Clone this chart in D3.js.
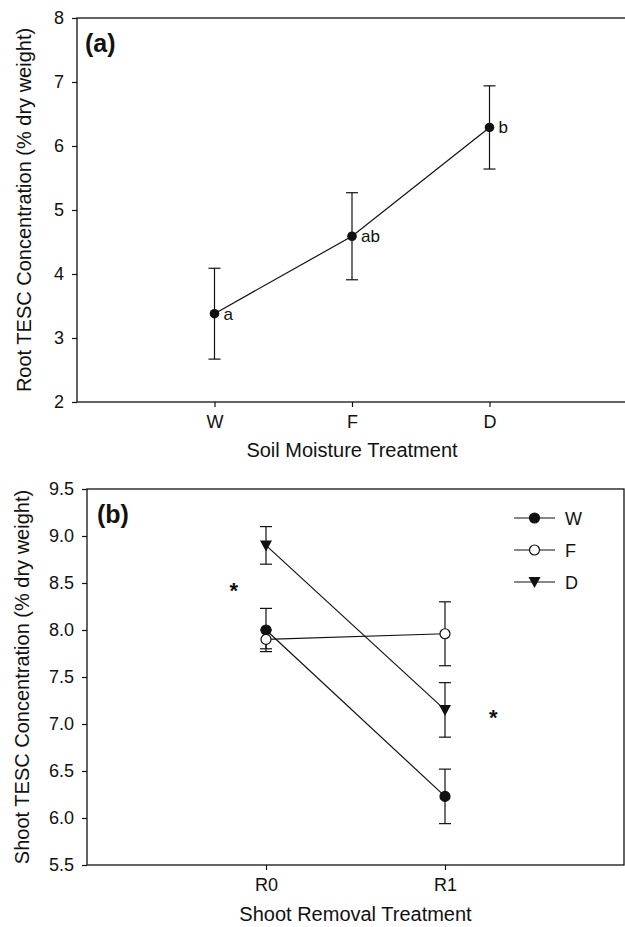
<!DOCTYPE html>
<html>
<head>
<meta charset="utf-8">
<script src="https://cdn.jsdelivr.net/npm/d3@7"></script>
<style>
  html, body { margin: 0; padding: 0; background: #fff; }
  svg text { font-family: "Liberation Sans", Arial, Helvetica, sans-serif; fill: #111; }
</style>
</head>
<body>
<svg id="chart" width="625" height="927"></svg>
<script>
// ---------- Panel (a) data ----------
const categoriesA = ["W", "F", "D"];
const meansA = [3.38, 4.59, 6.29];
const errorsA = [0.71, 0.68, 0.65];
const lettersA = ["a", "ab", "b"];
const yTicksA = [2, 3, 4, 5, 6, 7, 8];

// ---------- Panel (b) data ----------
const categoriesB = ["R0", "R1"];
const seriesNamesB = ["W", "F", "D"];
const valuesW = [8.00, 6.23];
const errorsW = [0.23, 0.29];
const valuesF = [7.90, 7.96];
const errorsF = [0.10, 0.34];
const valuesD = [8.90, 7.15];
const errorsD = [0.20, 0.29];
const yTicksB = [5.5, 6.0, 6.5, 7.0, 7.5, 8.0, 8.5, 9.0, 9.5];
// significance marks: [category position index, value]
const starsB = [{pos: 0.82, v: 8.48}, {pos: 2.27, v: 7.13}];

const svg = d3.select("#chart");
const ink = "#111";

// ================= Panel (a) =================
const A = {left: 77, right: 627, top: 18, bottom: 402};
const xA = d3.scaleLinear().domain([0, 4]).range([A.left, A.right]);
const yA = d3.scaleLinear().domain([2, 8]).range([A.bottom, A.top]);
const gA = svg.append("g");

gA.append("rect").attr("x", A.left).attr("y", A.top)
  .attr("width", A.right - A.left).attr("height", A.bottom - A.top)
  .attr("fill", "none").attr("stroke", ink).attr("stroke-width", 1.3);

const axLA = gA.append("g").attr("transform", `translate(${A.left},0)`)
  .call(d3.axisLeft(yA).tickValues(yTicksA).tickFormat(d3.format("d")).tickSize(5).tickPadding(8).tickSizeOuter(0));
axLA.select(".domain").remove();
axLA.selectAll("line").attr("stroke", ink).attr("stroke-width", 1.2);
axLA.selectAll("text").attr("font-size", 18).attr("fill", ink);

const axBA = gA.append("g").attr("transform", `translate(0,${A.bottom})`)
  .call(d3.axisBottom(xA).tickValues([1, 2, 3]).tickFormat((d, i) => categoriesA[i]).tickSize(5).tickPadding(8).tickSizeOuter(0));
axBA.select(".domain").remove();
axBA.selectAll("line").attr("stroke", ink).attr("stroke-width", 1.2);
axBA.selectAll("text").attr("font-size", 18).attr("fill", ink);

const dataA = categoriesA.map((c, i) => ({x: i + 1, m: meansA[i], e: errorsA[i], l: lettersA[i]}));

gA.append("path").datum(dataA)
  .attr("d", d3.line().x(d => xA(d.x)).y(d => yA(d.m)))
  .attr("fill", "none").attr("stroke", ink).attr("stroke-width", 1.2);

const ebA = gA.selectAll(".ebA").data(dataA).enter().append("g");
ebA.append("line").attr("x1", d => xA(d.x)).attr("x2", d => xA(d.x))
  .attr("y1", d => yA(d.m - d.e)).attr("y2", d => yA(d.m + d.e))
  .attr("stroke", ink).attr("stroke-width", 1.2);
[-1, 1].forEach(s => {
  ebA.append("line").attr("x1", d => xA(d.x) - 6).attr("x2", d => xA(d.x) + 6)
    .attr("y1", d => yA(d.m + s * d.e)).attr("y2", d => yA(d.m + s * d.e))
    .attr("stroke", ink).attr("stroke-width", 1.2);
});
gA.selectAll(".ptA").data(dataA).enter().append("circle")
  .attr("cx", d => xA(d.x)).attr("cy", d => yA(d.m)).attr("r", 4.8).attr("fill", ink);
gA.selectAll(".lblA").data(dataA).enter().append("text")
  .attr("x", d => xA(d.x) + 9).attr("y", d => yA(d.m) + 6)
  .attr("font-size", 17).text(d => d.l);

gA.append("text").attr("x", 85).attr("y", 52).attr("font-size", 25).attr("font-weight", "bold").text("(a)");
gA.append("text").attr("x", (A.left + A.right) / 2).attr("y", 457).attr("text-anchor", "middle")
  .attr("font-size", 20).text("Soil Moisture Treatment");
gA.append("text").attr("transform", `translate(31,${(A.top + A.bottom) / 2}) rotate(-90)`)
  .attr("text-anchor", "middle").attr("font-size", 20).text("Root TESC Concentration (% dry weight)");

// ================= Panel (b) =================
const B = {left: 87, right: 624, top: 489, bottom: 865};
const xB = d3.scaleLinear().domain([0, 3]).range([B.left, B.right]);
const yB = d3.scaleLinear().domain([5.5, 9.5]).range([B.bottom, B.top]);
const gB = svg.append("g");

gB.append("rect").attr("x", B.left).attr("y", B.top)
  .attr("width", B.right - B.left).attr("height", B.bottom - B.top)
  .attr("fill", "none").attr("stroke", ink).attr("stroke-width", 1.3);

const axLB = gB.append("g").attr("transform", `translate(${B.left},0)`)
  .call(d3.axisLeft(yB).tickValues(yTicksB).tickFormat(d3.format(".1f")).tickSize(5).tickPadding(8).tickSizeOuter(0));
axLB.select(".domain").remove();
axLB.selectAll("line").attr("stroke", ink).attr("stroke-width", 1.2);
axLB.selectAll("text").attr("font-size", 18).attr("fill", ink);

const axBB = gB.append("g").attr("transform", `translate(0,${B.bottom})`)
  .call(d3.axisBottom(xB).tickValues([1, 2]).tickFormat((d, i) => categoriesB[i]).tickSize(5).tickPadding(8).tickSizeOuter(0));
axBB.select(".domain").remove();
axBB.selectAll("line").attr("stroke", ink).attr("stroke-width", 1.2);
axBB.selectAll("text").attr("font-size", 18).attr("fill", ink);

const seriesB = [
  {name: "W", vals: valuesW, errs: errorsW, marker: "filled"},
  {name: "F", vals: valuesF, errs: errorsF, marker: "open"},
  {name: "D", vals: valuesD, errs: errorsD, marker: "tri"}
];
const ptsB = s => categoriesB.map((c, i) => ({x: i + 1, m: s.vals[i], e: s.errs[i]}));

seriesB.forEach(s => {
  gB.append("path").datum(ptsB(s))
    .attr("d", d3.line().x(d => xB(d.x)).y(d => yB(d.m)))
    .attr("fill", "none").attr("stroke", ink).attr("stroke-width", 1.2);
});
seriesB.forEach(s => {
  const g = gB.append("g").selectAll("g").data(ptsB(s)).enter().append("g");
  g.append("line").attr("x1", d => xB(d.x)).attr("x2", d => xB(d.x))
    .attr("y1", d => yB(d.m - d.e)).attr("y2", d => yB(d.m + d.e))
    .attr("stroke", ink).attr("stroke-width", 1.2);
  [-1, 1].forEach(k => {
    g.append("line").attr("x1", d => xB(d.x) - 6).attr("x2", d => xB(d.x) + 6)
      .attr("y1", d => yB(d.m + k * d.e)).attr("y2", d => yB(d.m + k * d.e))
      .attr("stroke", ink).attr("stroke-width", 1.2);
  });
});
function drawMarker(g, type, cx, cy) {
  if (type === "tri") {
    g.append("path").attr("d", `M${cx - 6},${cy - 5} L${cx + 6},${cy - 5} L${cx},${cy + 6} Z`).attr("fill", ink);
  } else {
    g.append("circle").attr("cx", cx).attr("cy", cy).attr("r", 5)
      .attr("fill", type === "open" ? "#fff" : ink).attr("stroke", ink).attr("stroke-width", 1.2);
  }
}
[seriesB[2], seriesB[0], seriesB[1]].forEach(s => {
  ptsB(s).forEach(d => drawMarker(gB, s.marker, xB(d.x), yB(d.m)));
});

gB.selectAll(".star").data(starsB).enter().append("text")
  .attr("x", d => xB(d.pos)).attr("y", d => yB(d.v) + 13)
  .attr("text-anchor", "middle").attr("font-size", 22).attr("font-weight", "bold").text("*");

const legY = [518, 550, 582];
seriesB.forEach((s, i) => {
  const lg = gB.append("g");
  lg.append("line").attr("x1", 514).attr("x2", 555).attr("y1", legY[i]).attr("y2", legY[i])
    .attr("stroke", ink).attr("stroke-width", 1.2);
  drawMarker(lg, s.marker, 534.5, legY[i]);
  lg.append("text").attr("x", 565).attr("y", legY[i] + 6.5).attr("font-size", 18).text(seriesNamesB[i]);
});

gB.append("text").attr("x", 97).attr("y", 523).attr("font-size", 25).attr("font-weight", "bold").text("(b)");
gB.append("text").attr("x", (B.left + B.right) / 2).attr("y", 921).attr("text-anchor", "middle")
  .attr("font-size", 20).text("Shoot Removal Treatment");
gB.append("text").attr("transform", `translate(29,${(B.top + B.bottom) / 2}) rotate(-90)`)
  .attr("text-anchor", "middle").attr("font-size", 20).text("Shoot TESC Concentration (% dry weight)");
</script>
</body>
</html>
